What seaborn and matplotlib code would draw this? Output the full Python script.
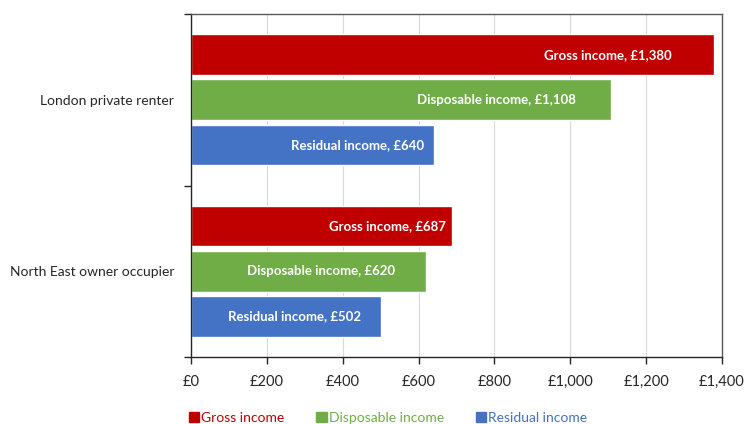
import matplotlib
matplotlib.use("Agg")
import matplotlib.pyplot as plt
import matplotlib.patches as mpatches
from matplotlib.ticker import FixedLocator, FuncFormatter
import seaborn as sns
import pandas as pd

categories = ["London private renter", "North East owner occupier"]
series = ["Gross income", "Disposable income", "Residual income"]
gross = [1380, 687]
disposable = [1108, 620]
residual = [640, 502]
colors = ["#C00000", "#70AD47", "#4472C4"]
# label right-edge gap from bar end, in pixels (styling)
label_gap_px = {"Gross income": [43, 6], "Disposable income": [35, 31], "Residual income": [10, 20]}

rows = []
for s, vals in zip(series, [gross, disposable, residual]):
    for c, v in zip(categories, vals):
        rows.append({"category": c, "series": s, "value": v})
df = pd.DataFrame(rows)

sns.set_theme(style="white")
plt.rcParams["font.family"] = ["Lato", "DejaVu Sans"]

fig = plt.figure(figsize=(7.45, 4.24), dpi=100)
ax = fig.add_axes([191/745, 1-357/424, (722-191)/745, (357-14)/424])

sns.barplot(data=df, y="category", x="value", hue="series", order=categories,
            hue_order=series, palette=colors, orient="h", width=0.79, gap=0.1,
            saturation=1, legend=False, ax=ax, errorbar=None)

ax.set_xlim(0, 1400)
ax.set_ylim(1.5, -0.5)
ax.set_xlabel("")
ax.set_ylabel("")
ax.xaxis.set_major_locator(FixedLocator(range(0, 1401, 200)))
ax.xaxis.set_major_formatter(FuncFormatter(lambda v, p: f"£{int(v):,}"))
ax.grid(axis="x", color="#D9D9D9", linewidth=0.8)
ax.set_axisbelow(True)
for sp in ax.spines.values():
    sp.set_visible(True)
    sp.set_color("#595959")
    sp.set_linewidth(1.0)
ax.spines["left"].set_color("#262626")
ax.spines["bottom"].set_color("#262626")
ax.tick_params(axis="x", which="major", direction="out", length=5, width=1,
               color="#262626", labelsize=10.5, labelcolor="#262626", pad=8)
ax.tick_params(axis="y", which="major", length=0, labelsize=10, labelcolor="#262626", pad=12)
ax.yaxis.set_minor_locator(FixedLocator([-0.5, 0.5, 1.5]))
ax.tick_params(axis="y", which="minor", direction="out", length=5, width=1, color="#262626", left=True)
ax.tick_params(axis="x", bottom=True)

for cont, s in zip(ax.containers, series):
    for i, bar in enumerate(cont):
        v = bar.get_width()
        yc = bar.get_y() + bar.get_height() / 2
        ax.annotate(f"{s}, £{int(v):,}", xy=(v, yc), xytext=(-label_gap_px[s][i] * 0.72, 0),
                    textcoords="offset points", ha="right", va="center",
                    color="white", fontsize=9.5, fontweight="bold")

handles = [mpatches.Patch(color=c, label=s) for c, s in zip(colors, series)]
fig.legend(handles=handles, loc="center left", bbox_to_anchor=(176/745, 1-418/424),
           ncol=3, frameon=False, fontsize=10, handlelength=0.75, handleheight=0.75,
           handletextpad=0.15, columnspacing=2.3, labelcolor=colors)

fig.savefig("out.png", dpi=100)
